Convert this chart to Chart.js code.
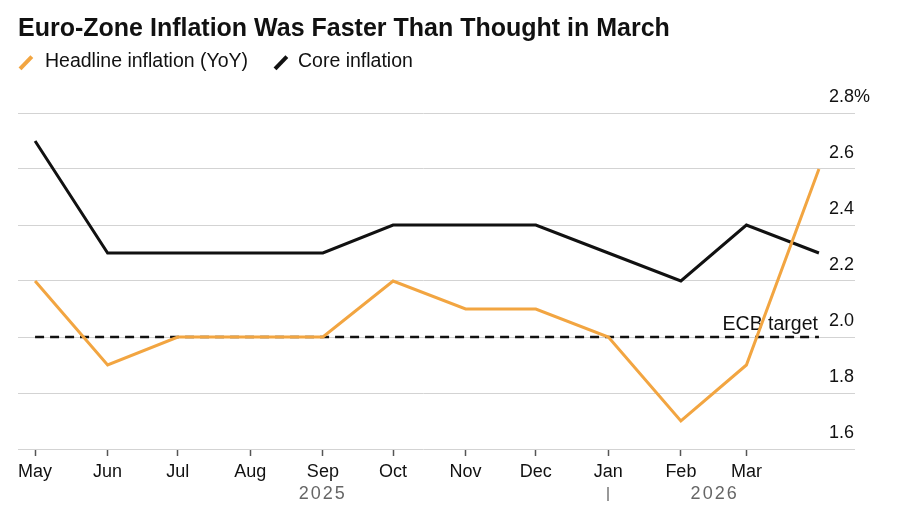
<!DOCTYPE html>
<html><head><meta charset="utf-8">
<script src="https://cdn.jsdelivr.net/npm/chart.js@4.4.1/dist/chart.umd.min.js"></script>
<style>
body{margin:0;background:#fff;}
#wrap{position:relative;width:900px;height:510px;font-family:"Liberation Sans",Arial,sans-serif;color:#111;}
canvas{position:absolute;left:0;top:0;}
.t{position:absolute;white-space:nowrap;}
.sw{position:absolute;width:3.5px;height:17px;transform:rotate(44deg);}
</style></head><body>
<div id="wrap">
<canvas id="c" width="900" height="510"></canvas>
<div class="t" style="left:18px;top:15px;font-size:25px;line-height:25px;font-weight:bold;">Euro-Zone Inflation Was Faster Than Thought in March</div>
<div id="legend"></div>
</div>
<script>
// ---- data ----
const dates = ['2025-05-01','2025-06-01','2025-07-01','2025-08-01','2025-09-01','2025-10-01','2025-11-01','2025-12-01','2026-01-01','2026-02-01','2026-03-01','2026-04-01'];
const monthLabels = ['May','Jun','Jul','Aug','Sep','Oct','Nov','Dec','Jan','Feb','Mar'];
const headline = [2.2,1.9,2.0,2.0,2.0,2.2,2.1,2.1,2.0,1.7,1.9,2.6];
const core = [2.7,2.3,2.3,2.3,2.3,2.4,2.4,2.4,2.3,2.2,2.4,2.3];
const ecbTarget = 2.0;
const yTicks = [1.6,1.8,2.0,2.2,2.4,2.6,2.8];
const years = ['2025','2026'];
const yearStarts = ['2025-05-01','2026-01-01'];
const yearEnds = ['2026-01-01','2026-04-01'];
const seriesNames = ['Headline inflation (YoY)','Core inflation'];
const seriesColors = ['#F2A541','#111111'];

const DAY = 86400000;
const t0 = Date.UTC(2025,4,1);
const dayOf = s => { const [y,m,d] = s.split('-').map(Number); return (Date.UTC(y,m-1,d)-t0)/DAY; };
const xs = dates.map(dayOf);

// legend (HTML)
const lg = document.getElementById('legend');
const legendPos = [{sw:24, tx:45},{sw:279, tx:298}];
seriesNames.forEach((n,i)=>{
  const s = document.createElement('div'); s.className='sw';
  s.style.left = legendPos[i].sw+'px'; s.style.top='54px'; s.style.background=seriesColors[i];
  lg.appendChild(s);
  const t = document.createElement('div'); t.className='t';
  t.style.cssText = `left:${legendPos[i].tx}px;top:51px;font-size:19.5px;line-height:19.5px;`;
  t.textContent = n; lg.appendChild(t);
});

Chart.defaults.font.family = '"Liberation Sans", Arial, sans-serif';
Chart.defaults.color = '#111';

const annot = {
  id:'annot',
  beforeDatasetsDraw(chart){
    const {ctx, scales:{x,y}} = chart;
    ctx.save();
    ctx.font = '19.5px "Liberation Sans", Arial, sans-serif';
    ctx.fillStyle = '#111';
    ctx.textAlign = 'right'; ctx.textBaseline = 'alphabetic';
    ctx.fillText('ECB target', x.getPixelForValue(xs[xs.length-1]) - 1, y.getPixelForValue(ecbTarget) - 7);
    ctx.restore();
  },
  afterDraw(chart){
    const {ctx, scales:{x}} = chart;
    ctx.save();
    ctx.font = '18px "Liberation Sans", Arial, sans-serif';
    ctx.fillStyle = '#666';
    ctx.textAlign = 'center'; ctx.textBaseline = 'middle';
    try { ctx.letterSpacing = '2px'; } catch(e){}
    years.forEach((yr,i)=>{
      const mid = (dayOf(yearStarts[i]) + dayOf(yearEnds[i]))/2;
      ctx.fillText(yr, x.getPixelForValue(mid)+1, 494);
    });
    ctx.strokeStyle = '#777'; ctx.lineWidth = 1.5;
    for (let i=1;i<yearStarts.length;i++){
      const px = Math.round(x.getPixelForValue(dayOf(yearStarts[i])));
      ctx.beginPath(); ctx.moveTo(px, 487); ctx.lineTo(px, 501); ctx.stroke();
    }
    ctx.restore();
  }
};

new Chart(document.getElementById('c'), {
  type:'line',
  data:{datasets:[
    {label:seriesNames[0], data:headline.map((v,i)=>({x:xs[i],y:v})), borderColor:seriesColors[0], borderWidth:3, pointRadius:0, tension:0, borderJoinStyle:'miter'},
    {label:seriesNames[1], data:core.map((v,i)=>({x:xs[i],y:v})), borderColor:seriesColors[1], borderWidth:3, pointRadius:0, tension:0, borderJoinStyle:'miter'},
    {label:'ECB target', data:[{x:xs[0],y:ecbTarget},{x:xs[xs.length-1],y:ecbTarget}], borderColor:'#111', borderWidth:2.5, borderDash:[9,6], pointRadius:0}
  ]},
  options:{
    responsive:false, animation:false,
    layout:{padding:{left:18, top:113, right:0, bottom:0}},
    plugins:{legend:{display:false}, tooltip:{enabled:false}},
    scales:{
      x:{type:'linear', min:-7.3, max:339.3,
        afterBuildTicks: s => { s.ticks = monthLabels.map((_,i)=>({value:xs[i]})); },
        ticks:{autoSkip:false, maxRotation:0, padding:5, font:{size:18}, color:'#111', callback:(v,i)=>monthLabels[i]},
        grid:{drawOnChartArea:false, drawTicks:true, tickLength:7, tickColor:'#555', tickWidth:1.5},
        border:{display:false},
        afterFit: s => { s.height = 61; }
      },
      y:{position:'right', min:1.6, max:2.8,
        afterBuildTicks: s => { s.ticks = yTicks.map(v=>({value:v})); },
        ticks:{padding:-26, labelOffset:-16, font:{size:18}, color:'#111',
          callback:(v,i)=> yTicks[i].toFixed(1) + (i===yTicks.length-1 ? '%' : '')},
        grid:{color:'#d3d3d3', lineWidth:1, tickLength:26, drawTicks:true},
        border:{display:false},
        afterFit: s => { s.width = 71; }
      }
    }
  },
  plugins:[annot]
});
</script>
</body></html>
